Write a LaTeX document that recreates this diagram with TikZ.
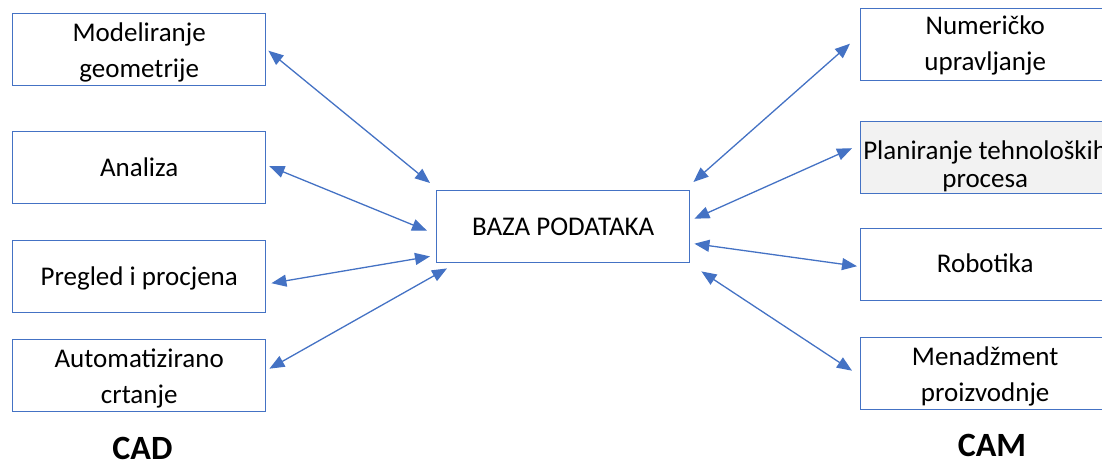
\documentclass[tikz,border=0pt]{standalone}
\usepackage{fontspec}
\setmainfont{Carlito}
\usetikzlibrary{arrows.meta}
\definecolor{accent}{HTML}{4472C4}
\definecolor{boxgray}{HTML}{F2F2F2}
\begin{document}
\begin{tikzpicture}[x=1pt,y=-1pt,
  box/.style={draw=accent, line width=1.4pt, minimum width=253pt, minimum height=72pt, inner sep=0pt, anchor=north west},
  lbl/.style={anchor=base, inner sep=0pt, font=\fontsize{27}{36}\selectfont},
  conn/.style={draw=accent, line width=1.3pt, {Triangle[length=15pt,width=12pt]}-{Triangle[length=15pt,width=12pt]}},
  grp/.style={anchor=base, inner sep=0pt, font=\bfseries\fontsize{34}{40}\selectfont}]
\clip (0,0) rectangle (1102,468);
% boxes
\node[box] (l1) at (12,13) {};
\node[box] (l2) at (12,131) {};
\node[box] (l3) at (12,240) {};
\node[box] (l4) at (12,339) {};
\node[box] (c) at (436,190) {};
\node[box] (r1) at (860,8) {};
\node[box, fill=boxgray] (r2) at (860,121) {};
\node[box] (r3) at (860,228) {};
\node[box] (r4) at (860,337) {};
% texts
\node[lbl] (t1) at ([shift={(0,-8)}]l1.center) {\begin{tabular}[t]{@{}c@{}}Modeliranje\\geometrije\end{tabular}};
\node[lbl] (t2) at ([shift={(0,9)}]l2.center) {Analiza};
\node[lbl] (t3) at ([shift={(0,9)}]l3.center) {Pregled i procjena};
\node[lbl] (t4) at ([shift={(0,-8)}]l4.center) {\begin{tabular}[t]{@{}c@{}}Automatizirano\\crtanje\end{tabular}};
\node[lbl] (tc) at ([shift={(0,9)}]c.center) {BAZA PODATAKA};
\node[lbl] (s1) at ([shift={(-2,-10)}]r1.center) {\begin{tabular}[t]{@{}c@{}}Numeričko\\upravljanje\end{tabular}};
\node[lbl, font=\fontsize{27}{28.5}\selectfont] (s2) at ([shift={(-2,1.5)}]r2.center) {\begin{tabular}[t]{@{}c@{}}Planiranje tehnoloških\\procesa\end{tabular}};
\node[lbl] (s3) at ([shift={(-2,8)}]r3.center) {Robotika};
\node[lbl] (s4) at ([shift={(-2,-8)}]r4.center) {\begin{tabular}[t]{@{}c@{}}Menadžment\\proizvodnje\end{tabular}};
\node[grp] (cad) at (142.5,459.5) {CAD};
\node[grp] (cam) at (992,456.5) {CAM};
% connectors
\draw[conn] ([shift={(2,1)}]l1.east) -- ([shift={(-6,-7)}]c.north west);
\draw[conn] ([shift={(3,-1.5)}]l2.east) -- ([shift={(-9,4)}]c.west);
\draw[conn] ([shift={(5,6.5)}]l3.east) -- ([shift={(-6,-7)}]c.south west);
\draw[conn] ([shift={(3,-7)}]l4.east) -- ([shift={(11,5)}]c.south west);
\draw[conn] ([shift={(-10,-1)}]r1.west) -- ([shift={(3,-8)}]c.north east);
\draw[conn] ([shift={(-8,-9.5)}]r2.west) -- ([shift={(4,-8)}]c.east);
\draw[conn] ([shift={(-3,1.5)}]r3.west) -- ([shift={(4,17)}]c.east);
\draw[conn] ([shift={(-8,-3)}]r4.west) -- ([shift={(11,8)}]c.south east);
\end{tikzpicture}
\end{document}
